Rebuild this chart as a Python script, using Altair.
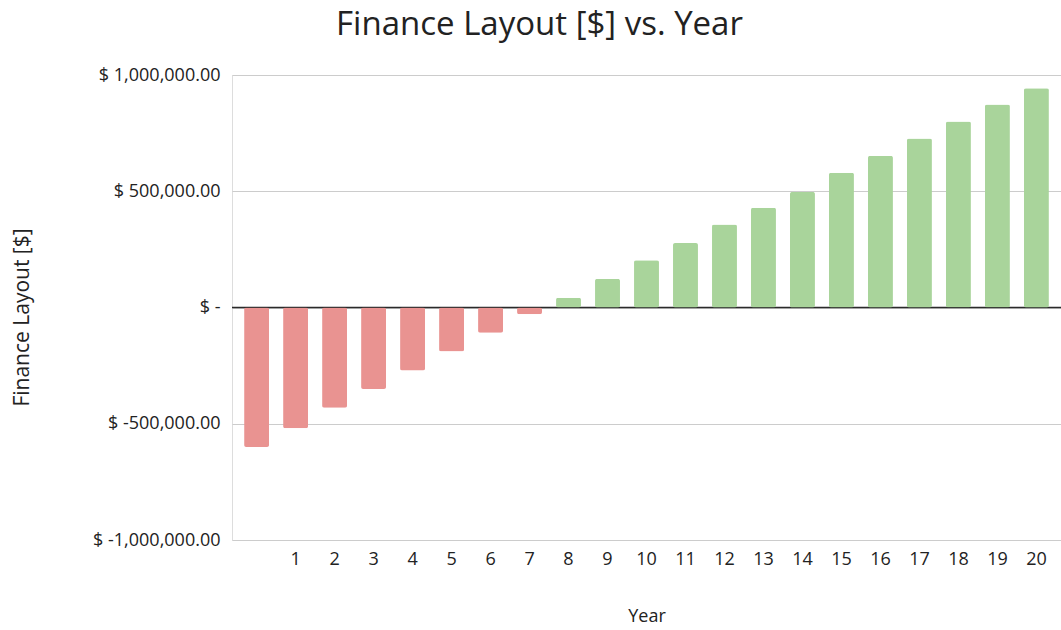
import altair as alt
import pandas as pd

years = list(range(0, 21))
layout_usd = [
    -600000, -519000, -431000, -351000, -271000, -189000, -109000, -29000,
    42000, 123000, 203000, 277000, 357000, 429000, 497000, 580000,
    652000, 727000, 800000, 873000, 943000,
]

df = pd.DataFrame({"Year": years, "Layout": layout_usd})
df["Sign"] = ["neg" if v < 0 else "pos" for v in layout_usd]

FONT = "Open Sans"
INK = "#222222"

y_scale = alt.Scale(domain=[-1000000, 1000000], nice=False)

# accounting-style dollar labels with a plain hyphen for negatives
y_label_expr = (
    "datum.value == 0 ? '$ -' : "
    "'$ ' + replace(format(datum.value, ',.2f'), '\u2212', '-')"
)

bars = alt.Chart(df).mark_bar(cornerRadius=2).encode(
    x=alt.X(
        "Year:O",
        sort=years,
        scale=alt.Scale(paddingInner=0.36, paddingOuter=0.31),
        axis=alt.Axis(
            title="Year",
            labelExpr="datum.value == 0 ? '' : datum.value",
            labelAngle=0,
            labelFont=FONT,
            labelFontSize=18,
            labelColor=INK,
            labelPadding=10,
            ticks=False,
            domain=False,
            titleFont=FONT,
            titleFontSize=18,
            titleFontWeight="normal",
            titleColor=INK,
            titlePadding=39,
        ),
    ),
    y=alt.Y(
        "Layout:Q",
        scale=y_scale,
        axis=alt.Axis(
            title="Finance Layout [$]",
            values=[-1000000, -500000, 0, 500000, 1000000],
            labelExpr=y_label_expr,
            labelFont=FONT,
            labelFontSize=18,
            labelColor=INK,
            labelPadding=12,
            ticks=False,
            domain=False,
            grid=True,
            gridColor="#cccccc",
            gridWidth=1.2,
            titleFont=FONT,
            titleFontSize=21,
            titleFontWeight="normal",
            titleColor=INK,
            titlePadding=60,
            titleY=242,
        ),
    ),
    color=alt.Color(
        "Sign:N",
        scale=alt.Scale(domain=["neg", "pos"], range=["#e99391", "#a9d49b"]),
        legend=None,
    ),
)

zero_line = alt.Chart(pd.DataFrame({"y": [0]})).mark_rule(
    color="#2a2a2a", strokeWidth=1.5
).encode(y=alt.Y("y:Q", scale=y_scale))

chart = (
    alt.layer(zero_line, bars)
    .properties(
        width=829,
        height=465,
        title=alt.TitleParams(
            "Finance Layout [$] vs. Year",
            font=FONT,
            fontSize=33,
            fontWeight="normal",
            color=INK,
            anchor="middle",
            dx=-107,
            offset=24,
        ),
        autosize=alt.AutoSizeParams(type="none"),
        padding={"left": 232, "top": 75, "right": 0, "bottom": 90},
    )
    .configure_view(stroke=None)
    .configure(background="white")
)

chart.save("out.html", embed_options={"renderer": "svg", "actions": False})
